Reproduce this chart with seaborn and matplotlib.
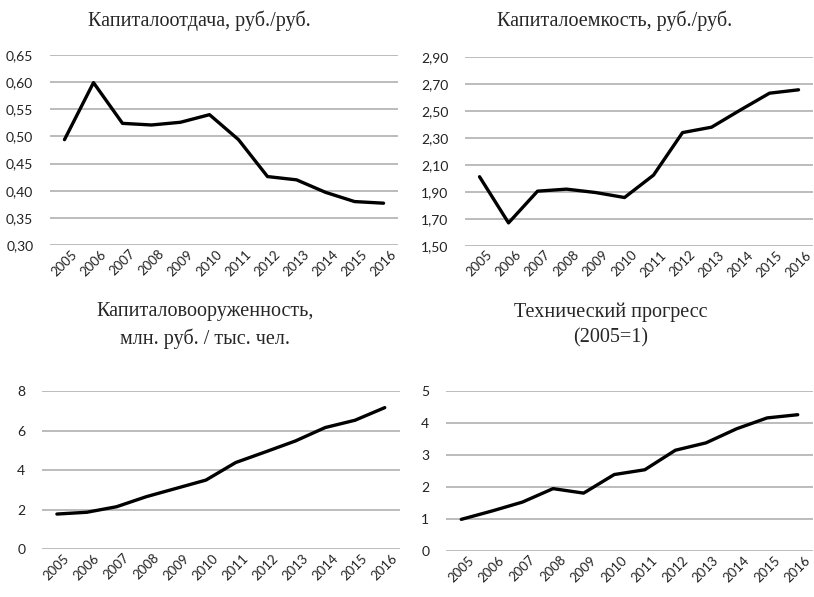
import matplotlib
matplotlib.use('Agg')
import matplotlib.pyplot as plt
from matplotlib.ticker import FuncFormatter
import pandas as pd
import seaborn as sns

sns.set_style('white')
plt.rcParams['font.family'] = ['Lato', 'DejaVu Sans']

years = list(range(2005, 2017))
kapitalootdacha = [0.494, 0.599, 0.524, 0.521, 0.526, 0.540, 0.494, 0.426, 0.420, 0.397, 0.380, 0.377]
kapitaloemkost = [2.013, 1.671, 1.906, 1.921, 1.896, 1.859, 2.025, 2.340, 2.380, 2.508, 2.632, 2.657]
vooruzhennost = [1.77, 1.86, 2.14, 2.65, 3.07, 3.49, 4.38, 4.92, 5.47, 6.15, 6.52, 7.16]
progress = [0.99, 1.25, 1.53, 1.95, 1.81, 2.39, 2.54, 3.15, 3.38, 3.82, 4.16, 4.26]

titles = ['Капиталоотдача, руб./руб.',
          'Капиталоемкость, руб./руб.',
          'Капиталовооруженность,\nмлн. руб. / тыс. чел.',
          'Технический прогресс\n(2005=1)']
yticks = [[0.30, 0.35, 0.40, 0.45, 0.50, 0.55, 0.60, 0.65],
          [1.50, 1.70, 1.90, 2.10, 2.30, 2.50, 2.70, 2.90],
          [0, 2, 4, 6, 8],
          [0, 1, 2, 3, 4, 5]]
decimals = [2, 2, 0, 0]
series = [kapitalootdacha, kapitaloemkost, vooruzhennost, progress]

# axes boxes (left, bottom, width, height) in figure fractions
boxes = [(0.0614, 0.5896, 0.4276, 0.3184),
         (0.5713, 0.5880, 0.4275, 0.3165),
         (0.0516, 0.0804, 0.4394, 0.2646),
         (0.5479, 0.0770, 0.4509, 0.2680)]
title_pos = [(0.245, 0.965), (0.755, 0.965), (0.252, 0.455), (0.750, 0.455)]

fig = plt.figure(figsize=(8.14, 5.97), dpi=100)

for i in range(4):
    ax = fig.add_axes(boxes[i])
    df = pd.DataFrame({'year': years, 'value': series[i]})
    sns.lineplot(data=df, x='year', y='value', ax=ax, color='black', linewidth=2.4)
    ax.set_xlim(2004.5, 2016.5)
    ax.set_ylim(yticks[i][0], yticks[i][-1])
    ax.set_xticks(years)
    ax.set_xticklabels([str(y) for y in years], rotation=45, fontsize=9.5, color='#222222')
    ax.set_yticks(yticks[i])
    d = decimals[i]
    ax.yaxis.set_major_formatter(FuncFormatter(lambda v, p, d=d: f'{v:.{d}f}'.replace('.', ',')))
    ax.tick_params(axis='y', labelsize=10, colors='#222222', length=0, pad=12)
    ax.tick_params(axis='x', length=0, pad=2)
    ax.yaxis.grid(True, color='#aaaaaa', linewidth=1.1)
    ax.set_axisbelow(True)
    for s in ax.spines.values():
        s.set_visible(False)
    ax.set_xlabel('')
    ax.set_ylabel('')
    fig.text(title_pos[i][0], title_pos[i][1], titles[i], ha='center', va='center',
             fontsize=14.5, family='Liberation Serif', linespacing=1.45)

fig.savefig('out.png', dpi=100)
